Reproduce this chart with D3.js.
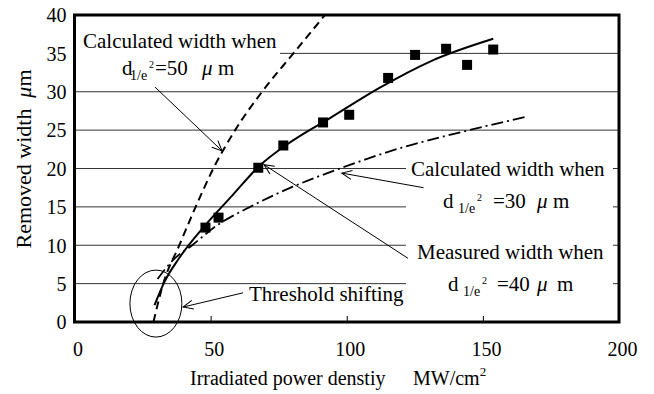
<!DOCTYPE html>
<html>
<head>
<meta charset="utf-8">
<script src="https://cdn.jsdelivr.net/npm/d3@7"></script>
<style>
body { margin: 0; background: #fff; }
svg text { font-family: "Liberation Serif", "Times New Roman", serif; fill: #000; }
</style>
</head>
<body>
<script>
// measured points (d = 40 um)
var powerDensity = [48.1, 52.9, 67.5, 76.7, 91.3, 100.9, 115.2, 125.1, 136.5, 144.2, 153.8];
var removedWidth = [12.3, 13.6, 20.1, 23.0, 26.0, 27.0, 31.8, 34.8, 35.6, 33.5, 35.5];

// fitted line through measured points
var fitX = [29.4, 33, 38.2, 48, 58, 67.5, 80, 94, 112, 131, 153.8];
var fitY = [2.2, 5.2, 8.2, 12.6, 16.5, 20.2, 23.6, 26.6, 30.5, 34, 36.9];

// calculated width, d = 50 um (dashed)
var calc50X = [29, 32.6, 38.5, 44.5, 51, 59, 68.9, 80.4, 92];
var calc50Y = [0, 5, 10, 15, 20, 25, 30, 35, 40];

// calculated width, d = 30 um (dash-dot)
var calc30X = [30.5, 36, 43.2, 52, 64.5, 80, 97.5, 120, 145, 165.5];
var calc30Y = [5.6, 8, 10, 12.5, 15, 17.6, 20, 22.7, 25, 26.7];

var xTicks = [0, 50, 100, 150, 200];
var yTicks = [0, 5, 10, 15, 20, 25, 30, 35, 40];

var W = 654, H = 394;
var pLeft = 74.5, pRight = 619, pTop = 15, pBottom = 322;

var x = d3.scaleLinear().domain([0, 200]).range([pLeft, pRight]);
var y = d3.scaleLinear().domain([0, 40]).range([pBottom, pTop]);

var svg = d3.select("body").append("svg")
  .attr("width", W).attr("height", H);

var defs = svg.append("defs");
defs.append("marker")
  .attr("id", "arr")
  .attr("markerUnits", "userSpaceOnUse")
  .attr("markerWidth", 20).attr("markerHeight", 20)
  .attr("viewBox", "-12 -10 14 20")
  .attr("refX", 0).attr("refY", 0)
  .attr("orient", "auto")
  .append("path")
  .attr("d", "M-10,-4.5 L0,0 L-10,4.5")
  .attr("fill", "none").attr("stroke", "#000").attr("stroke-width", 1);

// grid lines
svg.selectAll("line.grid")
  .data(yTicks.filter(function(d){ return d > 0 && d < 40; }))
  .enter().append("line")
  .attr("class", "grid")
  .attr("x1", pLeft).attr("x2", pRight)
  .attr("y1", function(d){ return y(d); })
  .attr("y2", function(d){ return y(d); })
  .attr("stroke", "#333").attr("stroke-width", 1);

// white label boxes (hide grid under text)
var boxes = [[76, 17, 204, 67], [406, 150, 207, 166], [245, 287, 160, 28]];
svg.selectAll("rect.box").data(boxes).enter().append("rect")
  .attr("x", function(d){ return d[0]; }).attr("y", function(d){ return d[1]; })
  .attr("width", function(d){ return d[2]; }).attr("height", function(d){ return d[3]; })
  .attr("fill", "#fff");

function zip(a, b) { return a.map(function(v, i){ return [v, b[i]]; }); }
var line = d3.line()
  .x(function(d){ return x(d[0]); })
  .y(function(d){ return y(d[1]); })
  .curve(d3.curveMonotoneX);

svg.append("path").datum(zip(calc50X, calc50Y))
  .attr("d", line).attr("fill", "none").attr("stroke", "#000")
  .attr("stroke-width", 2).attr("stroke-dasharray", "8,5");

svg.append("path").datum(zip(calc30X, calc30Y))
  .attr("d", line).attr("fill", "none").attr("stroke", "#000")
  .attr("stroke-width", 1.8).attr("stroke-dasharray", "12,4,2,4");

svg.append("path").datum(zip(fitX, fitY))
  .attr("d", line).attr("fill", "none").attr("stroke", "#000")
  .attr("stroke-width", 2);

svg.selectAll("rect.pt")
  .data(zip(powerDensity, removedWidth))
  .enter().append("rect")
  .attr("class", "pt")
  .attr("x", function(d){ return x(d[0]) - 5; })
  .attr("y", function(d){ return y(d[1]) - 5; })
  .attr("width", 10).attr("height", 10)
  .attr("fill", "#000");

// annotation arrows, in data units
var arrows = [
  [[29.6, 30.6], [54.2, 22.3]],
  [[128.2, 17.5], [98.2, 19.4]],
  [[122.5, 8.3], [69.6, 20.5]],
  [[61.9, 3.8], [39.9, 1.95]]
];
svg.selectAll("line.arrow").data(arrows).enter().append("line")
  .attr("x1", function(d){ return x(d[0][0]); })
  .attr("y1", function(d){ return y(d[0][1]); })
  .attr("x2", function(d){ return x(d[1][0]); })
  .attr("y2", function(d){ return y(d[1][1]); })
  .attr("stroke", "#000").attr("stroke-width", 1)
  .attr("marker-end", "url(#arr)");

// threshold ellipse
svg.append("ellipse")
  .attr("cx", x(29.9)).attr("cy", y(2.4))
  .attr("rx", 26).attr("ry", 33.5)
  .attr("fill", "none").attr("stroke", "#000").attr("stroke-width", 1);

// axes
var xAxis = svg.append("g")
  .attr("transform", "translate(0," + pBottom + ")")
  .call(d3.axisBottom(x).tickValues(xTicks).tickSize(-6).tickPadding(0));
xAxis.select(".domain").remove();
xAxis.selectAll(".tick line").attr("stroke", "#000").attr("stroke-width", 1);
xAxis.selectAll(".tick text")
  .attr("y", 34).attr("dy", null).attr("x", 3)
  .attr("font-size", 20).attr("font-family", null);

var yAxis = svg.append("g")
  .attr("transform", "translate(" + pLeft + ",0)")
  .call(d3.axisLeft(y).tickValues(yTicks).tickSize(0).tickPadding(8));
yAxis.select(".domain").remove();
yAxis.selectAll(".tick text")
  .attr("dy", "0.34em").attr("font-size", 20).attr("font-family", null);

// plot frame
svg.append("rect")
  .attr("x", pLeft).attr("y", pTop)
  .attr("width", pRight - pLeft).attr("height", pBottom - pTop)
  .attr("fill", "none").attr("stroke", "#000").attr("stroke-width", 3);

// axis titles
var xt = svg.append("text").attr("y", 385).attr("font-size", 20);
xt.append("tspan").attr("x", 190).text("Irradiated power denstiy");
xt.append("tspan").attr("x", 413).text("MW/cm");
xt.append("tspan").attr("dy", -9).attr("font-size", 13).text("2");

var yt = svg.append("text")
  .attr("transform", "translate(31," + 159 + ") rotate(-90)")
  .attr("text-anchor", "middle").attr("font-size", 22);
yt.append("tspan").text("Removed width\u00a0\u00a0");
yt.append("tspan").attr("font-style", "italic").text("\u03bc");
yt.append("tspan").text("m");

// annotation labels
function dLabel(base, px) {
  // px: positions of d, 1/e, 2, =NN, mu, m
  var t = svg.append("text").attr("y", base.y).attr("font-size", 21);
  t.append("tspan").attr("x", px[0]).text("d");
  t.append("tspan").attr("x", px[1]).attr("dy", 5).attr("font-size", 14).text("1/e");
  t.append("tspan").attr("x", px[2]).attr("dy", -12).attr("font-size", 10).text("2");
  t.append("tspan").attr("x", px[3]).attr("dy", 7).text("=" + base.v);
  t.append("tspan").attr("x", px[4]).attr("font-style", "italic").text("\u03bc");
  t.append("tspan").attr("x", px[5]).text("m");
}

svg.append("text").attr("x", 83).attr("y", 48).attr("font-size", 21).text("Calculated width when");
dLabel({y: 75, v: "50"}, [122, 130, 149, 155, 202, 218]);

svg.append("text").attr("x", 411).attr("y", 176).attr("font-size", 21).text("Calculated width when");
dLabel({y: 208, v: "30"}, [443, 458, 477, 493, 537, 553]);

svg.append("text").attr("x", 417).attr("y", 259).attr("font-size", 21).text("Measured width when");
dLabel({y: 291, v: "40"}, [448, 463, 482, 497, 537, 557]);

svg.append("text").attr("x", 249).attr("y", 301).attr("font-size", 21).text("Threshold shifting");
</script>
</body>
</html>
